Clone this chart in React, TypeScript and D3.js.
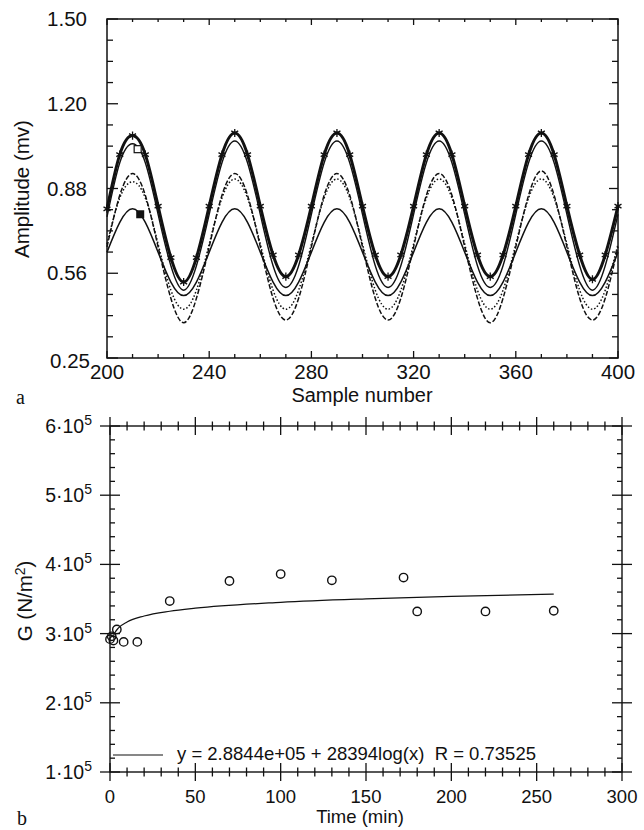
import * as d3 from "d3";

// ---- panel a: amplitude vs sample number ----
const samples = [
  200, 205, 210, 215, 220, 225, 230, 235, 240, 245, 250, 255, 260, 265, 270, 275,
  280, 285, 290, 295, 300, 305, 310, 315, 320, 325, 330, 335, 340, 345, 350, 355,
  360, 365, 370, 375, 380, 385, 390, 395, 400,
];
const seriesStar = [
  0.80, 1.00, 1.07, 1.00, 0.81, 0.62, 0.53, 0.62, 0.81, 1.00, 1.08, 1.00, 0.81, 0.63, 0.55, 0.63,
  0.81, 1.00, 1.08, 1.00, 0.81, 0.63, 0.55, 0.63, 0.81, 1.00, 1.08, 1.00, 0.81, 0.63, 0.55, 0.63,
  0.81, 1.00, 1.08, 1.00, 0.81, 0.63, 0.54, 0.63, 0.81,
];
const seriesSolid1 = [
  0.77, 0.97, 1.04, 0.97, 0.78, 0.59, 0.50, 0.59, 0.78, 0.97, 1.05, 0.97, 0.78, 0.59, 0.51, 0.59,
  0.78, 0.97, 1.05, 0.97, 0.78, 0.59, 0.51, 0.59, 0.78, 0.97, 1.05, 0.97, 0.78, 0.59, 0.51, 0.59,
  0.78, 0.97, 1.05, 0.97, 0.78, 0.59, 0.50, 0.59, 0.78,
];
const seriesDashed = [
  0.66, 0.85, 0.93, 0.85, 0.66, 0.47, 0.38, 0.47, 0.66, 0.85, 0.93, 0.85, 0.66, 0.47, 0.39, 0.47,
  0.66, 0.85, 0.93, 0.85, 0.66, 0.47, 0.39, 0.47, 0.66, 0.85, 0.93, 0.85, 0.66, 0.47, 0.38, 0.47,
  0.66, 0.85, 0.94, 0.85, 0.66, 0.47, 0.39, 0.47, 0.66,
];
const seriesDotted = [
  0.67, 0.84, 0.90, 0.84, 0.67, 0.50, 0.43, 0.50, 0.67, 0.84, 0.91, 0.84, 0.67, 0.50, 0.43, 0.50,
  0.67, 0.84, 0.91, 0.84, 0.67, 0.50, 0.43, 0.50, 0.67, 0.84, 0.91, 0.84, 0.67, 0.50, 0.43, 0.50,
  0.67, 0.84, 0.91, 0.84, 0.67, 0.50, 0.43, 0.50, 0.67,
];
const seriesSolid2 = [
  0.64, 0.75, 0.80, 0.75, 0.64, 0.53, 0.48, 0.53, 0.64, 0.75, 0.80, 0.75, 0.64, 0.53, 0.48, 0.53,
  0.64, 0.75, 0.80, 0.75, 0.64, 0.53, 0.48, 0.53, 0.64, 0.75, 0.80, 0.75, 0.64, 0.53, 0.48, 0.53,
  0.64, 0.75, 0.80, 0.75, 0.64, 0.53, 0.48, 0.53, 0.64,
];
const openSquare = { sample: 212, value: 1.02 };
const filledSquare = { sample: 213, value: 0.78 };

const ampTicks = [0.25, 0.5625, 0.875, 1.1875, 1.5];
const ampTickLabels = ["0.25", "0.56", "0.88", "1.20", "1.50"];
const sampleTicks = [200, 240, 280, 320, 360, 400];

// ---- panel b: shear modulus vs time ----
const timeObs = [0, 1, 2, 4, 8, 16, 35, 70, 100, 130, 172, 180, 220, 260];
const gObs = [
  2.92e5, 2.96e5, 2.9e5, 3.06e5, 2.88e5, 2.88e5, 3.47e5, 3.76e5, 3.86e5, 3.77e5, 3.81e5,
  3.32e5, 3.32e5, 3.33e5,
];
const fitTime = [2, 3, 5, 10, 20, 35, 50, 100, 150, 200, 260];
const fitG = [2.97e5, 3.02e5, 3.083e5, 3.168e5, 3.254e5, 3.323e5, 3.367e5, 3.452e5, 3.502e5, 3.538e5, 3.57e5];
const gTicks = [1e5, 2e5, 3e5, 4e5, 5e5, 6e5];
const gTickLabels = ["1", "2", "3", "4", "5", "6"];
const timeTicks = [0, 50, 100, 150, 200, 250, 300];
const fitLabel = "y = 2.8844e+05 + 28394log(x)\u00A0\u00A0R = 0.73525";

const font = "'Liberation Sans', Arial, Helvetica, sans-serif";
const serif = "'Liberation Serif', 'DejaVu Serif', serif";
const ink = "#111";

export default function App() {
  // panel a scales
  const xA = d3.scaleLinear().domain([200, 400]).range([107, 618]);
  const yA = d3.scaleLinear().domain([0.25, 1.5]).range([358, 19]);
  const sampleMinor = d3.range(200, 401, 10);
  const ampMinor = d3.range(0, 17).map((i) => 0.25 + i * 0.078125);

  const lineA = d3
    .line<number>()
    .x((_, i) => xA(samples[i]))
    .y((d) => yA(d))
    .curve(d3.curveNatural);

  const seriesA = [
    { vals: seriesStar, w: 3, dash: "none" },
    { vals: seriesSolid1, w: 1.4, dash: "none" },
    { vals: seriesDashed, w: 1.5, dash: "5,2" },
    { vals: seriesDotted, w: 1.5, dash: "1.5,2" },
    { vals: seriesSolid2, w: 1.5, dash: "none" },
  ];
  const star = d3.symbol().type(d3.symbolAsterisk).size(45)();

  // panel b scales
  const xB = d3.scaleLinear().domain([0, 300]).range([110, 622]);
  const yB = d3.scaleLinear().domain([1e5, 6e5]).range([772, 426]);
  const timeMinor = d3.range(0, 301, 10);
  const gMinor = d3.range(1e5, 6e5 + 1, 2e4);
  const fitLine = d3
    .line<number>()
    .x((d) => xB(d))
    .y((_, i) => yB(fitG[i]))
    .curve(d3.curveMonotoneX);

  const [a0, a1] = xA.range();
  const [b0, b1] = yA.range();
  const [c0, c1] = xB.range();
  const [d0, d1] = yB.range();

  return (
    <svg
      width={644}
      height={830}
      style={{ position: "absolute", left: 0, top: 0, background: "#fff" }}
      fontFamily={font}
    >
      {/* ================= panel a ================= */}
      <g stroke={ink} strokeWidth={1.3} fill="none">
        <rect x={a0} y={b1} width={a1 - a0} height={b0 - b1} strokeWidth={1.5} />
        {sampleMinor.map((s) => {
          const major = sampleTicks.includes(s);
          return (
            <g key={"xa" + s}>
              <line x1={xA(s)} x2={xA(s)} y1={b0} y2={b0 - (major ? 7 : 4)} />
              <line x1={xA(s)} x2={xA(s)} y1={b1} y2={b1 + (major ? 6 : 3)} />
            </g>
          );
        })}
        {ampMinor.map((v, i) => {
          const major = i % 4 === 0;
          return (
            <g key={"ya" + i}>
              <line x1={a0} x2={a0 + (major ? 11 : 6)} y1={yA(v)} y2={yA(v)} />
              <line x1={a1} x2={a1 - (major ? 9 : 6)} y1={yA(v)} y2={yA(v)} />
            </g>
          );
        })}
      </g>

      <g fill="none" stroke={ink}>
        {seriesA.map((s, i) => (
          <path key={"s" + i} d={lineA(s.vals) || ""} strokeWidth={s.w} strokeDasharray={s.dash} />
        ))}
      </g>
      <g stroke={ink} strokeWidth={1.3} fill="none">
        {seriesStar.map((v, i) => (
          <path key={"st" + i} d={star || ""} transform={`translate(${xA(samples[i])},${yA(v)})`} />
        ))}
      </g>
      <rect
        x={xA(openSquare.sample) - 3.5}
        y={yA(openSquare.value) - 3.5}
        width={7}
        height={7}
        fill="#fff"
        stroke={ink}
        strokeWidth={1.2}
      />
      <rect
        x={xA(filledSquare.sample) - 4}
        y={yA(filledSquare.value) - 4}
        width={8}
        height={8}
        fill={ink}
      />

      <g fontSize={20} fill={ink}>
        {ampTicks.map((v, i) => (
          <text key={"yl" + i} x={i === 0 ? 90 : 87} y={yA(v) + (i === 0 ? 3 : 0)} textAnchor="end" dy="0.35em" fontSize={20.5}>
            {ampTickLabels[i]}
          </text>
        ))}
        {sampleTicks.map((s) => (
          <text key={"xl" + s} x={xA(s)} y={379} textAnchor="middle" fontSize={20.5}>
            {s}
          </text>
        ))}
        <text x={362} y={402} textAnchor="middle">
          Sample number
        </text>
        <text transform="translate(29,189) rotate(-90)" textAnchor="middle" fontSize={20.5}>
          Amplitude (mv)
        </text>
      </g>
      <text x={16} y={404} fontSize={20} fontFamily={serif} fill={ink}>
        a
      </text>

      {/* ================= panel b ================= */}
      <g stroke={ink} strokeWidth={1.3} fill="none">
        <rect x={c0} y={d1} width={c1 - c0} height={d0 - d1} strokeWidth={1.4} />
        {timeMinor.map((t) => {
          const major = timeTicks.includes(t);
          const h = major ? 9 : 4.5;
          return (
            <g key={"xb" + t}>
              <line x1={xB(t)} x2={xB(t)} y1={d0 - h} y2={d0 + h} />
              <line x1={xB(t)} x2={xB(t)} y1={d1 - h} y2={d1 + h} />
            </g>
          );
        })}
        {gMinor.map((g, i) => {
          const major = i % 5 === 0;
          return (
            <g key={"yb" + i}>
              {major ? (
                <>
                  <line x1={c0 - 10} x2={c0 + 10} y1={yB(g)} y2={yB(g)} />
                  <line x1={c1 - 10} x2={c1 + 10} y1={yB(g)} y2={yB(g)} />
                </>
              ) : (
                <>
                  <line x1={c0} x2={c0 + 5} y1={yB(g)} y2={yB(g)} />
                  <line x1={c1} x2={c1 - 5} y1={yB(g)} y2={yB(g)} />
                </>
              )}
            </g>
          );
        })}
      </g>

      <path d={fitLine(fitTime) || ""} fill="none" stroke={ink} strokeWidth={1.2} />
      <g fill="none" stroke={ink} strokeWidth={1.4}>
        {timeObs.map((t, i) => (
          <circle key={"o" + i} cx={xB(t)} cy={yB(gObs[i])} r={4.2} />
        ))}
      </g>

      <line x1={113} x2={163} y1={755} y2={755} stroke={ink} strokeWidth={1.2} />
      <text x={177} y={760} fontSize={18.5} fill={ink}>
        {fitLabel}
      </text>

      <g fontSize={18.5} fill={ink}>
        {gTicks.map((g, i) => (
          <text key={"gl" + i} x={92} y={yB(g) + 7} textAnchor="end" fontSize={19.5}>
            {gTickLabels[i]}·10
            <tspan dy={-8} fontSize={14}>
              5
            </tspan>
          </text>
        ))}
        {timeTicks.map((t) => (
          <text key={"tl" + t} x={xB(t)} y={803} textAnchor="middle">
            {t}
          </text>
        ))}
        <text x={360} y={823} textAnchor="middle">
          Time (min)
        </text>
        <text transform="translate(32,601) rotate(-90)" textAnchor="middle" fontSize={20.5}>
          G (N/m
          <tspan dy={-7} fontSize={14}>
            2
          </tspan>
          <tspan dy={7}>)</tspan>
        </text>
      </g>
      <text x={17} y={825} fontSize={20} fontFamily={serif} fill={ink}>
        b
      </text>
    </svg>
  );
}
